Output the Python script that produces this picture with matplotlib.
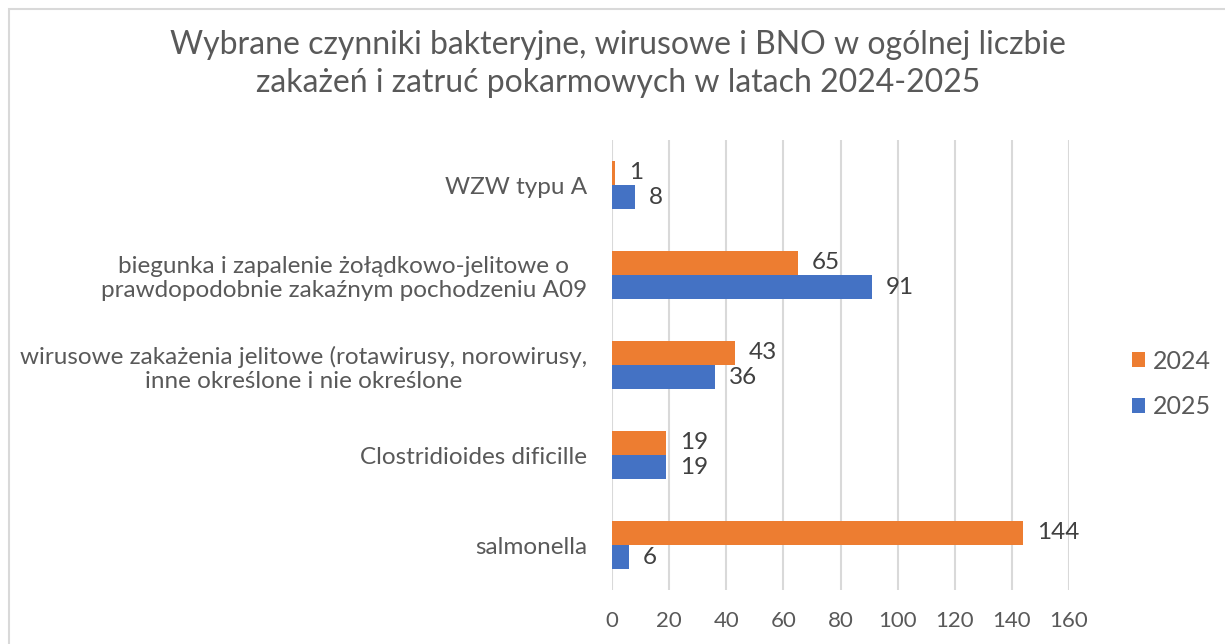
import matplotlib.pyplot as plt
import matplotlib.patches as mpatches
import numpy as np

plt.rcParams['font.family'] = ['Lato', 'DejaVu Sans']

categories = ['WZW typu A',
              'biegunka i zapalenie żołądkowo-jelitowe o\nprawdopodobnie zakaźnym pochodzeniu A09',
              'wirusowe zakażenia jelitowe (rotawirusy, norowirusy,\ninne określone i nie określone',
              'Clostridioides dificille',
              'salmonella']
vals_2024 = [1, 65, 43, 19, 144]
vals_2025 = [8, 91, 36, 19, 6]
xticks = [0, 20, 40, 60, 80, 100, 120, 140, 160]

orange = '#ED7D31'
blue = '#4472C4'
txt = '#595959'
grid = '#D9D9D9'

fig = plt.figure(figsize=(12.25, 6.44), dpi=100)
ax = fig.add_axes([612/1225, 1-590/644, (1069-612)/1225, 450/644])

# frame around the chart area
fig.patches.append(mpatches.Rectangle((9/1225, -0.1), 1.2, 1-9/644+0.1, transform=fig.transFigure,
                                      fill=False, edgecolor=grid, linewidth=1.5))

y = np.arange(len(categories))
h = 0.267
b24 = ax.barh(y - h/2, vals_2024, height=h, color=orange, label='2024')
b25 = ax.barh(y + h/2, vals_2025, height=h, color=blue, label='2025')

for bars, vals in ((b24, vals_2024), (b25, vals_2025)):
    for bar, v in zip(bars, vals):
        ax.annotate(str(v), (bar.get_width(), bar.get_y() + bar.get_height()/2),
                    xytext=(14, 0), textcoords='offset pixels', va='center', ha='left',
                    fontsize=17.5, color='#404040')

ax.set_ylim(4.5, -0.5)
ax.set_xlim(0, 160)
ax.set_xticks(xticks)
ax.set_yticks(y)
ax.set_yticklabels(categories, fontsize=17.5, color=txt, multialignment='center',
                   linespacing=1.2)
ax.tick_params(axis='x', labelsize=16, colors=txt, length=0, pad=15)
ax.tick_params(axis='y', length=0, pad=18)
ax.grid(axis='x', color=grid, linewidth=1.5)
ax.set_axisbelow(True)
for s in ax.spines.values():
    s.set_visible(False)

fig.legend(handles=[b24, b25], loc='center left', bbox_to_anchor=(1109/1225, 1-384/644),
           frameon=False, fontsize=18, handlelength=0.55, handleheight=0.55,
           handletextpad=0.3, labelspacing=0.9, labelcolor=txt)

fig.text(618/1225, 1-64/644, 'Wybrane czynniki bakteryjne, wirusowe i BNO w ogólnej liczbie\n'
         'zakażeń i zatruć pokarmowych w latach 2024-2025',
         ha='center', va='center', fontsize=23, color=txt, linespacing=1.3)

fig.savefig('out.png', dpi=100)
